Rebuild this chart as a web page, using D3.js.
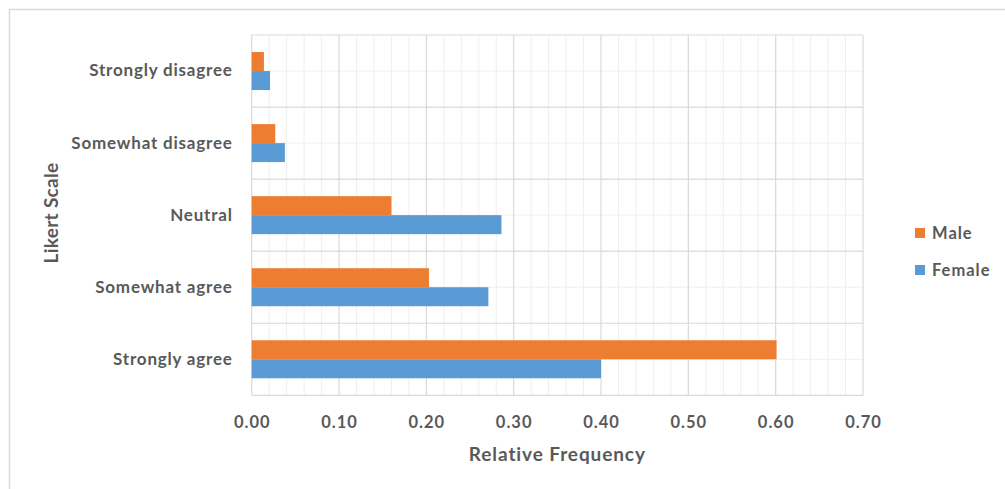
<!DOCTYPE html>
<html>
<head>
<meta charset="utf-8">
<script src="https://cdn.jsdelivr.net/npm/d3@7"></script>
<style>
  html, body { margin: 0; padding: 0; background: #fff; }
  svg { display: block; font-family: Lato, "Open Sans", sans-serif; }
</style>
</head>
<body>
<svg id="chart" width="1005" height="489"></svg>
<script>
// Likert responses, listed top to bottom as drawn
const categories = ["Strongly disagree", "Somewhat disagree", "Neutral", "Somewhat agree", "Strongly agree"];
const seriesNames = ["Male", "Female"];
const maleValues = [0.014, 0.027, 0.160, 0.203, 0.601];
const femaleValues = [0.021, 0.038, 0.286, 0.271, 0.400];
const tickValues = [0, 0.1, 0.2, 0.3, 0.4, 0.5, 0.6, 0.7];
const colors = { Male: "#ED7D31", Female: "#5B9BD5" };

const svg = d3.select("#chart");
const W = 1005, H = 489;
const plot = { left: 251.7, right: 863, top: 35, bottom: 395.3 };
const textColor = "#595959";

// outer chart frame
svg.append("rect")
  .attr("x", 9.5).attr("y", 9.5)
  .attr("width", W + 10).attr("height", H + 10)
  .attr("fill", "#fff").attr("stroke", "#d9d9d9").attr("stroke-width", 1.5);

const x = d3.scaleLinear().domain([0, 0.7]).range([plot.left, plot.right]);
const y = d3.scaleBand().domain(categories).range([plot.top, plot.bottom]);
const barH = 19;
const inner = d3.scaleBand().domain(seriesNames)
  .range([y.bandwidth() / 2 - barH, y.bandwidth() / 2 + barH]);

const g = svg.append("g");

// minor vertical gridlines
const minorTicks = d3.range(0, 71, 2).map(v => v / 100).filter(v => Math.round(v * 100) % 10 !== 0);
g.selectAll("line.vminor").data(minorTicks).join("line")
  .attr("x1", d => x(d)).attr("x2", d => x(d))
  .attr("y1", plot.top).attr("y2", plot.bottom)
  .attr("stroke", "#efefef").attr("stroke-width", 1);

// minor horizontal gridlines at category centres
g.selectAll("line.hminor").data(categories).join("line")
  .attr("x1", plot.left).attr("x2", plot.right)
  .attr("y1", d => y(d) + y.bandwidth() / 2).attr("y2", d => y(d) + y.bandwidth() / 2)
  .attr("stroke", "#efefef").attr("stroke-width", 1);

// major vertical gridlines
g.selectAll("line.vmajor").data(tickValues).join("line")
  .attr("x1", d => x(d)).attr("x2", d => x(d))
  .attr("y1", plot.top).attr("y2", plot.bottom)
  .attr("stroke", "#d9d9d9").attr("stroke-width", 1.2);

// major horizontal gridlines at category boundaries
const bounds = categories.map(c => y(c)).concat([plot.bottom]);
g.selectAll("line.hmajor").data(bounds).join("line")
  .attr("x1", plot.left).attr("x2", plot.right)
  .attr("y1", d => d).attr("y2", d => d)
  .attr("stroke", "#d9d9d9").attr("stroke-width", 1.2);

// bars
const rows = categories.map((c, i) => ({ cat: c, Male: maleValues[i], Female: femaleValues[i] }));
const groups = g.selectAll("g.cat").data(rows).join("g")
  .attr("transform", d => `translate(0,${y(d.cat)})`);
groups.selectAll("rect").data(d => seriesNames.map(s => ({ s, v: d[s] }))).join("rect")
  .attr("x", x(0))
  .attr("y", d => inner(d.s))
  .attr("width", d => x(d.v) - x(0))
  .attr("height", inner.bandwidth())
  .attr("fill", d => colors[d.s]);

// value axis labels
const xAxis = d3.axisBottom(x).tickValues(tickValues).tickFormat(d3.format(".2f")).tickSize(0).tickPadding(21);
const xg = svg.append("g").attr("transform", `translate(0,${plot.bottom})`).call(xAxis);
xg.select(".domain").remove();
xg.selectAll("text").attr("fill", textColor).attr("font-size", 16.5).attr("font-weight", "bold")
  .attr("letter-spacing", "1px").attr("font-family", "Lato, sans-serif");

// category axis labels
const yAxis = d3.axisLeft(y).tickSize(0).tickPadding(19);
const yg = svg.append("g").attr("transform", `translate(${plot.left},0)`).call(yAxis);
yg.select(".domain").remove();
yg.selectAll("text").attr("fill", textColor).attr("font-size", 17).attr("font-weight", "bold")
  .attr("letter-spacing", "0.8px").attr("font-family", "Lato, sans-serif");

// axis titles
svg.append("text")
  .attr("x", (plot.left + plot.right) / 2).attr("y", 461)
  .attr("text-anchor", "middle")
  .attr("fill", textColor).attr("font-size", 19).attr("font-weight", "bold")
  .attr("letter-spacing", "0.9px")
  .text("Relative Frequency");

svg.append("text")
  .attr("transform", "translate(58,213) rotate(-90)")
  .attr("text-anchor", "middle")
  .attr("fill", textColor).attr("font-size", 19).attr("font-weight", "bold")
  .attr("letter-spacing", "0.3px")
  .text("Likert Scale");

// legend
const legend = svg.append("g").attr("transform", "translate(915,233)");
const li = legend.selectAll("g").data(seriesNames).join("g")
  .attr("transform", (d, i) => `translate(0,${i * 37})`);
li.append("rect").attr("x", 0).attr("y", -5).attr("width", 10).attr("height", 10)
  .attr("fill", d => colors[d]);
li.append("text").attr("x", 17).attr("y", 0).attr("dy", "0.35em")
  .attr("fill", textColor).attr("font-size", 16.5).attr("font-weight", "bold")
  .attr("letter-spacing", "1px")
  .text(d => d);
</script>
</body>
</html>
